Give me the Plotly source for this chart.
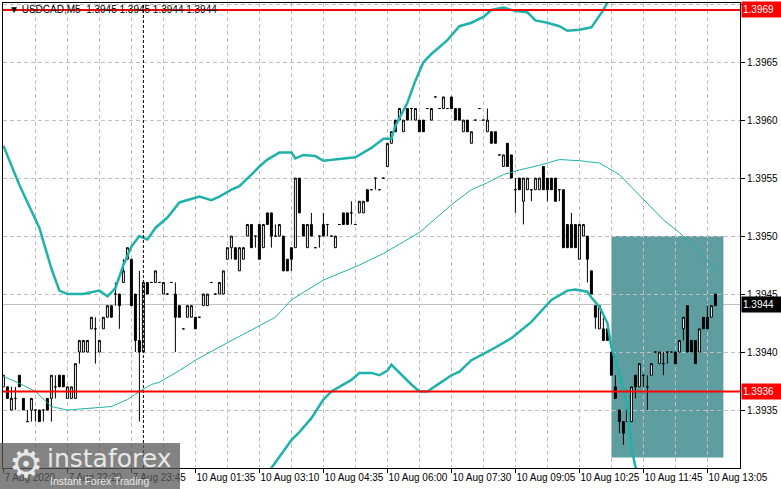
import plotly.graph_objects as go

# USDCAD M5, prices in pips above 1.3900
open_pips = [37, 37, 35, 36, 38, 36, 34, 35, 35, 35, 35, 36, 36, 37, 38, 38, 36, 36, 36, 40,
             40, 40, 42, 42, 40, 42, 43, 44, 45, 45, 46, 48, 48, 45, 41, 40, 46, 46, 46, 46,
             45, 45, 46, 45, 44, 42, 43, 43, 43, 43, 44, 44, 46, 45, 45, 45, 48, 49, 49, 47,
             48, 50, 51, 50, 51, 49, 52, 52, 50, 50, 50, 48, 49, 49, 55, 51, 49, 51, 49, 50,
             51, 51, 50, 49, 51, 52, 52, 52, 51, 52, 52, 54, 54, 55, 54, 55, 56, 58, 60, 60,
             59, 61, 61, 60, 60, 60, 61, 60, 62, 61, 61, 61, 62, 61, 61, 59, 60, 58, 60, 61,
             60, 59, 59, 59, 57, 56, 58, 57, 54, 55, 53, 54, 54, 54, 54, 56, 55, 55, 55, 54,
             54, 51, 51, 51, 48, 50, 50, 47, 44, 42, 42, 42, 40, 37, 35, 34, 34, 34, 38, 37,
             38, 37, 38, 40, 39, 39, 40, 40, 40, 40, 42, 44, 41, 41, 40, 43, 43, 43, 45]
high_pips = [38, 37, 37, 37, 38, 36, 35, 36, 35, 35, 35, 36, 38, 38, 38, 38, 37, 37, 39, 41,
             41, 41, 43, 43, 41, 43, 44, 44, 46, 45, 48, 49, 48, 45, 47, 46, 46, 46, 47, 46,
             46, 45, 46, 46, 44, 42, 44, 44, 43, 43, 45, 45, 46, 45, 46, 47, 49, 50, 49, 49,
             49, 51, 51, 50, 51, 51, 52, 52, 51, 51, 50, 48, 49, 55, 55, 51, 51, 52, 49, 50,
             52, 51, 50, 50, 51, 52, 52, 53, 51, 53, 53, 54, 54, 55, 54, 55, 58, 59, 60, 61,
             60, 61, 61, 61, 60, 60, 61, 61, 62, 61, 62, 61, 62, 61, 61, 60, 60, 59, 60, 61,
             60, 61, 59, 59, 57, 57, 58, 57, 55, 55, 55, 55, 54, 55, 55, 56, 55, 55, 55, 54,
             54, 51, 52, 51, 51, 51, 50, 47, 44, 44, 43, 42, 40, 38, 35, 34, 35, 37, 38, 39,
             38, 38, 39, 40, 40, 40, 40, 40, 40, 41, 43, 44, 41, 41, 42, 43, 44, 44, 45]
low_pips = [37, 36, 35, 35, 37, 35, 34, 34, 34, 34, 34, 35, 34, 36, 37, 37, 36, 36, 36, 39,
            40, 40, 42, 39, 40, 42, 43, 43, 44, 42, 46, 48, 44, 40, 34, 40, 45, 46, 46, 46,
            45, 45, 46, 40, 43, 42, 43, 43, 42, 43, 44, 44, 46, 45, 45, 45, 48, 48, 48, 47,
            48, 50, 49, 49, 48, 49, 51, 49, 50, 50, 47, 47, 47, 49, 52, 50, 49, 50, 49, 49,
            50, 50, 50, 49, 51, 51, 51, 51, 51, 52, 52, 53, 54, 54, 54, 55, 56, 58, 59, 60,
            59, 60, 60, 60, 59, 59, 61, 60, 62, 61, 61, 61, 61, 60, 60, 59, 59, 58, 60, 61,
            60, 59, 58, 58, 57, 56, 56, 55, 52, 54, 51, 54, 53, 54, 54, 54, 53, 54, 53, 53,
            49, 49, 49, 49, 48, 50, 46, 45, 42, 42, 41, 41, 38, 36, 33, 32, 34, 34, 36, 37,
            37, 35, 38, 40, 39, 38, 39, 40, 39, 40, 41, 40, 40, 39, 40, 42, 42, 43, 44]
close_pips = [38, 36, 36, 36, 37, 35, 34, 36, 35, 34, 35, 35, 38, 37, 37, 37, 37, 37, 39, 41,
              41, 41, 43, 42, 41, 43, 44, 43, 45, 44, 47, 49, 44, 41, 40, 46, 45, 46, 47, 46,
              46, 45, 46, 43, 43, 42, 44, 44, 42, 43, 45, 45, 46, 45, 46, 47, 49, 50, 48, 49,
              49, 51, 49, 50, 48, 51, 51, 50, 50, 51, 47, 47, 48, 55, 52, 50, 51, 50, 49, 50,
              50, 51, 50, 50, 51, 51, 51, 52, 51, 53, 53, 53, 54, 55, 54, 55, 58, 59, 59, 61,
              60, 60, 61, 61, 59, 59, 61, 61, 62, 61, 62, 61, 61, 60, 60, 60, 59, 59, 60, 61,
              60, 60, 58, 58, 57, 57, 56, 55, 54, 54, 55, 55, 54, 55, 55, 54, 54, 54, 53, 54,
              49, 49, 49, 49, 51, 51, 48, 45, 43, 44, 41, 41, 38, 36, 34, 33, 35, 37, 37, 39,
              38, 37, 39, 40, 40, 39, 40, 40, 39, 41, 43, 40, 40, 39, 42, 42, 42, 44, 44]

# Bollinger bands (bar index, pips above 1.3900)
upper_idx = [0, 4, 9, 12, 14, 16, 20, 24, 26, 28, 30, 32, 34, 36, 38, 41, 44, 47, 49, 52,
             54, 57, 59, 62, 64, 66, 69, 72, 73, 75, 78, 80, 83, 88, 92, 95, 97, 98, 101, 103,
             105, 107, 111, 114, 117, 120, 122, 125, 128, 131, 133, 136, 139, 141, 144, 147,
             150, 152, 155, 160, 165, 170, 175, 178]
upper_val = [57.8, 54.4, 50.7, 47.2, 45.3, 45.0, 45.0, 45.3, 44.8, 45.5, 47.5, 49.1, 50.0,
             49.7, 50.7, 51.6, 52.9, 53.2, 53.4, 53.1, 53.4, 54.0, 54.3, 55.3, 56.0, 56.6,
             57.2, 57.2, 56.7, 57.0, 56.9, 56.5, 56.6, 56.8, 57.6, 58.4, 58.4, 59.5, 61.5,
             63.4, 65.0, 65.7, 66.9, 68.1, 68.4, 68.9, 69.5, 69.7, 69.4, 69.3, 68.6, 68.4,
             68.1, 67.7, 67.8, 68.0, 69.5, 70.8, 73, 76, 78, 79, 80, 80]
middle_idx = [0, 4, 8, 12, 16, 20, 24, 27, 31, 34, 37, 39, 44, 48, 56, 62, 68, 72, 80, 89,
              95, 104, 107, 112, 117, 121, 125, 129, 134, 139, 144, 149, 154, 159, 165, 169,
              174, 178]
middle_val = [37.9, 37.3, 36.6, 35.3, 35.0, 35.1, 35.2, 35.3, 35.9, 36.6, 37.2, 37.4, 38.4,
              39.3, 40.8, 41.9, 43.0, 44.5, 46.2, 47.5, 48.5, 50.3, 51.2, 52.7, 54.0, 54.6,
              55.3, 55.7, 56.1, 56.6, 56.5, 56.3, 55.3, 53.5, 51.4, 50.3, 48.6, 47.0]
lower_idx = [0, 4, 9, 12, 16, 20, 24, 28, 32, 36, 40, 44, 48, 52, 56, 60, 64, 67, 72, 74,
             77, 80, 82, 87, 89, 92, 94, 96, 97, 99, 102, 104, 106, 109, 112, 114, 117, 122,
             127, 132, 137, 141, 143, 146, 147, 149, 151, 152, 154, 156, 157, 158, 160, 165,
             170, 175, 178]
lower_val = [18, 20, 22.5, 23.4, 25, 25.2, 25.1, 25, 22.7, 24.5, 25.5, 24, 25.5, 26.5, 27,
             27.5, 28.2, 30.0, 32.4, 33.1, 34.3, 35.9, 36.6, 37.6, 38.2, 38.2, 38.0, 38.4,
             38.9, 38.2, 37.2, 36.6, 36.6, 37.3, 38.0, 38.3, 39.3, 40.2, 41.2, 42.6, 44.5,
             45.3, 45.4, 45.2, 44.7, 43.9, 42.5, 40.4, 38.2, 35.3, 31.8, 30.1, 29, 26, 24,
             23, 22]

tick_bars = [0, 16, 32, 48, 64, 80, 96, 112, 128, 144, 160, 176]
tick_text = ["7 Aug 2020", "7 Aug 22:20", "7 Aug 23:45", "10 Aug 01:35", "10 Aug 03:10",
             "10 Aug 04:35", "10 Aug 06:00", "10 Aug 07:30", "10 Aug 09:05", "10 Aug 10:25",
             "10 Aug 11:45", "10 Aug 13:05"]
price_ticks = [1.3935, 1.3940, 1.3945, 1.3950, 1.3955, 1.3960, 1.3965, 1.3970]

res_level = 1.39695
sup_level = 1.39366
bid_level = 1.39441
day_sep = 35
box_bars = [152, 180]
box_prices = [1.39309, 1.3950]


def px(p):
    return 1.39 + p / 10000.0


FONT = "Liberation Sans"
BAND = "#20b2aa"
x = list(range(len(open_pips)))

fig = go.Figure()
fig.add_trace(go.Candlestick(
    x=x,
    open=[px(v) for v in open_pips], high=[px(v) for v in high_pips],
    low=[px(v) for v in low_pips], close=[px(v) for v in close_pips],
    increasing=dict(line=dict(color="black", width=1), fillcolor="white"),
    decreasing=dict(line=dict(color="black", width=1), fillcolor="black"),
    whiskerwidth=0, hoverinfo="skip",
))
fig.add_trace(go.Scatter(x=middle_idx, y=[px(v) for v in middle_val], mode="lines",
                         line=dict(color=BAND, width=1), hoverinfo="skip"))
fig.add_trace(go.Scatter(x=upper_idx, y=[px(v) for v in upper_val], mode="lines",
                         line=dict(color=BAND, width=2.5), hoverinfo="skip"))
fig.add_trace(go.Scatter(x=lower_idx, y=[px(v) for v in lower_val], mode="lines",
                         line=dict(color=BAND, width=2.5), hoverinfo="skip"))

# rectangle zone (behind everything)
fig.add_shape(type="rect", x0=box_bars[0], x1=box_bars[1], y0=box_prices[0], y1=box_prices[1],
              fillcolor="#5f9ea0", line=dict(width=0), layer="below")
fig.add_shape(type="line", xref="paper", x0=0, x1=1, y0=bid_level, y1=bid_level,
              line=dict(color="#c0c0c0", width=1), layer="below")
fig.add_shape(type="line", x0=day_sep, x1=day_sep, yref="paper", y0=0, y1=1,
              line=dict(color="black", width=1, dash="3px,2px"))
for lvl in [res_level, sup_level]:
    fig.add_shape(type="line", xref="paper", x0=0, x1=1, y0=lvl, y1=lvl,
                  line=dict(color="#ff0000", width=2))

# instaforex watermark
fig.add_shape(type="rect", xref="paper", yref="paper", x0=-0.0041, x1=0.2402,
              y0=-0.046, y1=0.0538, fillcolor="rgba(90,90,90,0.75)", line=dict(width=0))

ann = [
    dict(text="\u25bc USDCAD,M5  1.3945 1.3945 1.3944 1.3944", xref="paper", yref="paper",
         x=0.005, y=0.985, xanchor="left", yanchor="middle", showarrow=False,
         font=dict(family=FONT, size=10, color="black")),
    dict(text="1.3969", xref="paper", x=1, y=res_level, xanchor="left", yanchor="middle",
         xshift=1, showarrow=False, bgcolor="#ff0000", width=38, height=13, align="left",
         font=dict(family=FONT, size=10, color="white")),
    dict(text="1.3936", xref="paper", x=1, y=sup_level, xanchor="left", yanchor="middle",
         xshift=1, showarrow=False, bgcolor="#ff0000", width=38, height=13, align="left",
         font=dict(family=FONT, size=10, color="white")),
    dict(text="1.3944", xref="paper", x=1, y=bid_level, xanchor="left", yanchor="middle",
         xshift=1, showarrow=False, bgcolor="black", width=38, height=13, align="left",
         font=dict(family=FONT, size=10, color="white")),
    dict(text="\u2699", xref="paper", yref="paper", x=0.0312, y=0.0086, xanchor="center",
         yanchor="middle", showarrow=False, font=dict(family="DejaVu Sans", size=38, color="#e8e8e8")),
    dict(text="instaforex", xref="paper", yref="paper", x=0.057, y=0.021, xanchor="left",
         yanchor="middle", showarrow=False, font=dict(family="DejaVu Sans", size=25, color="#e8e8e8")),
    dict(text="Instant Forex Trading", xref="paper", yref="paper", x=0.061, y=-0.028,
         xanchor="left", yanchor="middle", showarrow=False,
         font=dict(family=FONT, size=10.5, color="#e8e8e8")),
]

fig.update_layout(
    width=781, height=489,
    margin=dict(l=3, r=41, t=3, b=21, autoexpand=False),
    paper_bgcolor="white", plot_bgcolor="white",
    showlegend=False, hovermode=False,
    font=dict(family=FONT, size=10, color="black"),
    annotations=ann,
)
fig.update_xaxes(
    range=[-0.1, 184.15], rangeslider=dict(visible=False), automargin=False,
    tickmode="array", tickvals=tick_bars, ticktext=tick_text, tickangle=0,
    ticklabelposition="outside right", ticks="outside", ticklen=4, tickcolor="black",
    showgrid=True, gridcolor="#c0c0c0", griddash="4px,3px", gridwidth=1,
    minor=dict(tickmode="array", tickvals=[b + 8 for b in tick_bars], showgrid=True,
               gridcolor="#c0c0c0", griddash="4px,3px", ticks=""),
    showline=True, linecolor="black", linewidth=1, mirror=True, zeroline=False,
)
fig.update_yaxes(
    range=[1.39300, 1.39701], side="right", automargin=False,
    tickmode="array", tickvals=price_ticks, ticktext=[f"{v:.4f}" for v in price_ticks],
    ticks="outside", ticklen=4, tickcolor="black",
    showgrid=True, gridcolor="#c0c0c0", griddash="4px,3px", gridwidth=1,
    showline=True, linecolor="black", linewidth=1, mirror=True, zeroline=False,
)

# drop the browser's default page margin so the figure sits at the window's corner
fig.write_html("out.html", config={"displayModeBar": False},
               post_script="document.body.style.margin='0';")
